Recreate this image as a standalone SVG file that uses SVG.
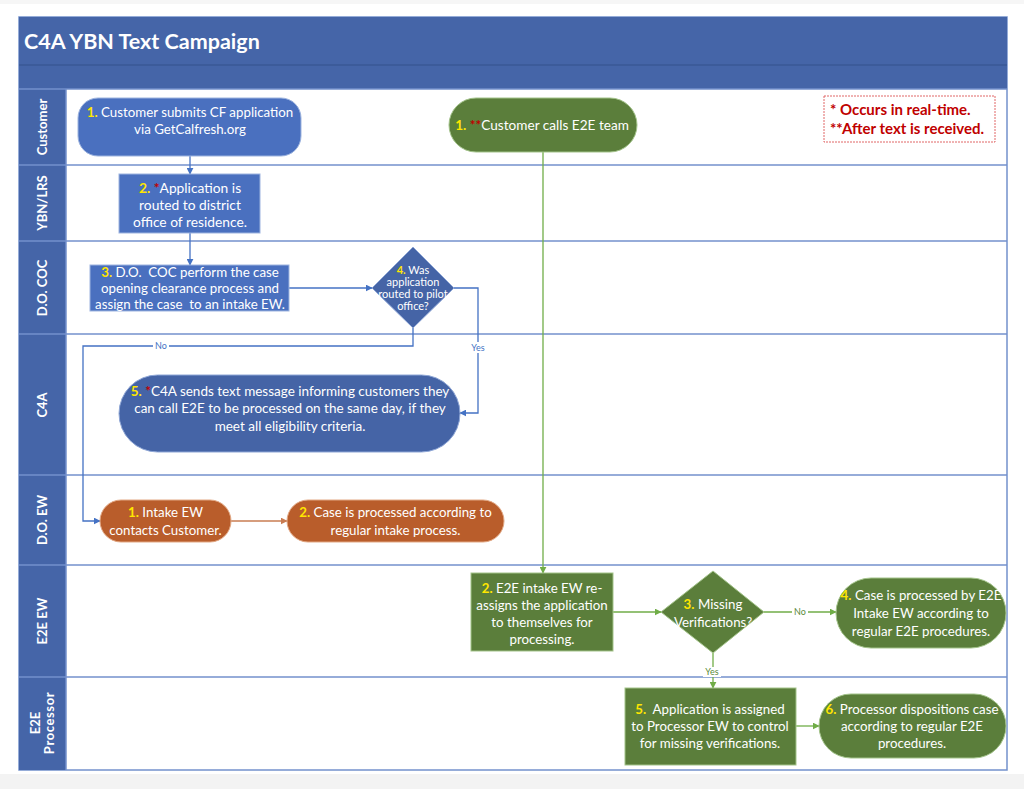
<svg xmlns="http://www.w3.org/2000/svg" width="1024" height="789" viewBox="0 0 1024 789">
<defs>
<style>
.t{font-family:Lato,"Open Sans","Liberation Sans",sans-serif;fill:#fff;font-size:13.3px;text-anchor:middle}
.n{fill:#ffe600;font-weight:bold}
.r{fill:#c00000;font-weight:bold}
.lane{font-family:Lato,"Open Sans","Liberation Sans",sans-serif;fill:#fff;font-size:13px;font-weight:bold;text-anchor:middle}
.lbl{font-family:Lato,"Open Sans","Liberation Sans",sans-serif;font-size:9px;text-anchor:middle}
.sep{stroke:#7391cc;stroke-width:1.5}
.cb{fill:none;stroke:#4472c4;stroke-width:1.3}
.cg{fill:none;stroke:#70ad47;stroke-width:1.3}
.co{fill:none;stroke:#c97c52;stroke-width:1.3}
.nb{fill:#4a70bf;stroke:#9db4df;stroke-width:1}
.nd{fill:#4564a6;stroke:#8ea6d6;stroke-width:1}
.ng{fill:#5b7e3b;stroke:#a3c38a;stroke-width:1}
.no{fill:#b95d2b;stroke:#e2a884;stroke-width:1}
.leg{font-family:Lato,"Open Sans","Liberation Sans",sans-serif;font-size:15px;font-weight:bold;fill:#c00000}
</style>
<marker id="ab" viewBox="0 0 10 10" refX="9" refY="5" markerWidth="7" markerHeight="7" markerUnits="userSpaceOnUse" orient="auto"><path d="M0,0L10,5L0,10z" fill="#4472c4"/></marker>
<marker id="ag" viewBox="0 0 10 10" refX="9" refY="5" markerWidth="7" markerHeight="7" markerUnits="userSpaceOnUse" orient="auto"><path d="M0,0L10,5L0,10z" fill="#70ad47"/></marker>
<marker id="ao" viewBox="0 0 10 10" refX="9" refY="5" markerWidth="7" markerHeight="7" markerUnits="userSpaceOnUse" orient="auto"><path d="M0,0L10,5L0,10z" fill="#c97c52"/></marker>
</defs>
<rect width="1024" height="789" fill="#fff"/>
<rect x="0" y="774" width="1024" height="15" fill="#f3f3f3"/>
<rect x="0" y="0" width="1024" height="4" fill="#f6f6f6"/>

<g id="frame">
<rect x="19" y="17" width="988" height="753" fill="#fff" stroke="#7391cc" stroke-width="1.5"/>
<rect x="19" y="17" width="988" height="48" fill="#4565a8"/>
<rect x="19" y="65" width="988" height="24" fill="#4565a8"/>
<line x1="19" y1="65" x2="1007" y2="65" stroke="#3a5896" stroke-width="1.5"/>
<rect x="19" y="89" width="47" height="681" fill="#4565a8"/>
<text x="24" y="49" style="font-family:Lato,'Open Sans','Liberation Sans',sans-serif;font-size:21.5px;font-weight:bold;fill:#fff">C4A YBN Text Campaign</text>
<line class="sep" x1="19" y1="89" x2="1007" y2="89"/>
<line class="sep" x1="19" y1="165" x2="1007" y2="165"/>
<line class="sep" x1="19" y1="241" x2="1007" y2="241"/>
<line class="sep" x1="19" y1="334" x2="1007" y2="334"/>
<line class="sep" x1="19" y1="475" x2="1007" y2="475"/>
<line class="sep" x1="19" y1="565" x2="1007" y2="565"/>
<line class="sep" x1="19" y1="677" x2="1007" y2="677"/>
<line class="sep" x1="66" y1="89" x2="66" y2="770"/>
<text class="lane" transform="translate(47,127) rotate(-90)">Customer</text>
<text class="lane" transform="translate(47,203) rotate(-90)">YBN/LRS</text>
<text class="lane" transform="translate(47,288) rotate(-90)">D.O. COC</text>
<text class="lane" transform="translate(47,405) rotate(-90)">C4A</text>
<text class="lane" transform="translate(47,520) rotate(-90)">D.O. EW</text>
<text class="lane" transform="translate(47,621) rotate(-90)">E2E EW</text>
<text class="lane" transform="translate(40,723) rotate(-90)">E2E</text>
<text class="lane" transform="translate(54,723) rotate(-90)" style="letter-spacing:0.6px">Processor</text>
</g>

<g id="connectors">
<path class="cb" d="M190,156V174" marker-end="url(#ab)"/>
<path class="cb" d="M190,233V265" marker-end="url(#ab)"/>
<path class="cb" d="M289,288H372" marker-end="url(#ab)"/>
<path class="cb" d="M454,288H478V413H460" marker-end="url(#ab)"/>
<path class="cb" d="M413,328V346H83V521H100" marker-end="url(#ab)"/>
<rect x="469" y="342" width="18" height="11" fill="#fff"/>
<text class="lbl" x="478" y="351" fill="#4472c4">Yes</text>
<rect x="153" y="341" width="16" height="10" fill="#fff"/>
<text class="lbl" x="161" y="349" fill="#4472c4">No</text>
<path class="co" d="M231,521H287" marker-end="url(#ao)"/>
<path class="cg" d="M543,152V573" marker-end="url(#ag)"/>
<path class="cg" d="M613,612H661" marker-end="url(#ag)"/>
<path class="cg" d="M764,612H836" marker-end="url(#ag)"/>
<rect x="792" y="607" width="16" height="10" fill="#fff"/>
<text class="lbl" x="800" y="615" fill="#5b8a3a">No</text>
<path class="cg" d="M713,653V688" marker-end="url(#ag)"/>
<rect x="703" y="667" width="18" height="10" fill="#fff"/>
<text class="lbl" x="712" y="675" fill="#5b8a3a">Yes</text>
<path class="cg" d="M796,726H819" marker-end="url(#ag)"/>
</g>

<g id="legend">
<rect x="824" y="96" width="171" height="46" fill="#fff" stroke="#e06666" stroke-width="1" stroke-dasharray="2,1"/>
<text class="leg" x="830" y="115">* Occurs in real-time.</text>
<text class="leg" x="830" y="133.5">**After text is received.</text>
</g>

<g id="cust1">
<rect class="nb" x="78" y="98" width="223" height="58" rx="20"/>
<text class="t" x="190" y="116.5"><tspan class="n">1.</tspan> Customer submits CF application</text>
<text class="t" x="190" y="133.5">via GetCalfresh.org</text>
</g>

<g id="custcall">
<rect class="ng" x="449" y="98" width="188" height="54" rx="27"/>
<text class="t" x="542" y="129.5" style="font-size:13.6px"><tspan class="n">1.</tspan> <tspan class="r">**</tspan>Customer calls E2E team</text>
</g>

<g id="ybn2">
<rect class="nb" x="119" y="174" width="141" height="59"/>
<text class="t" x="190" y="192.5" style="font-size:13.8px"><tspan class="n">2.</tspan> <tspan class="r">*</tspan>Application is</text>
<text class="t" x="190" y="209.5" style="font-size:13.8px">routed to district</text>
<text class="t" x="190" y="226.5" style="font-size:13.8px">office of residence.</text>
</g>

<g id="coc3">
<rect class="nb" x="90" y="265" width="199" height="46"/>
<text class="t" x="190" y="277" xml:space="preserve"><tspan class="n">3.</tspan> D.O.  COC perform the case</text>
<text class="t" x="190" y="293">opening clearance process and</text>
<text class="t" x="190" y="309" xml:space="preserve">assign the case  to an intake EW.</text>
</g>

<g id="dec4">
<path class="nd" d="M413,247L454,288L413,328L372,288Z"/>
<text class="t" x="413" y="274" style="font-size:11px"><tspan class="n">4.</tspan> Was</text>
<text class="t" x="413" y="286" style="font-size:11px">application</text>
<text class="t" x="413" y="298" style="font-size:11px">routed to pilot</text>
<text class="t" x="413" y="310" style="font-size:11px">office?</text>
</g>

<g id="c4a5">
<rect class="nd" x="119" y="375" width="341" height="77" rx="38.5"/>
<text class="t" x="290" y="395.5" style="font-size:13.5px"><tspan class="n">5.</tspan> <tspan class="r">*</tspan>C4A sends text message informing customers they</text>
<text class="t" x="290" y="413" style="font-size:13.5px">can call E2E to be processed on the same day, if they</text>
<text class="t" x="290" y="430.5" style="font-size:13.5px">meet all eligibility criteria.</text>
</g>

<g id="doew1">
<rect class="no" x="100" y="500" width="131" height="42" rx="21"/>
<text class="t" x="165.5" y="516.5"><tspan class="n">1.</tspan> Intake EW</text>
<text class="t" x="165.5" y="534.5">contacts Customer.</text>
</g>

<g id="doew2">
<rect class="no" x="287" y="500" width="217" height="42" rx="21"/>
<text class="t" x="395.5" y="516.5"><tspan class="n">2.</tspan> Case is processed according to</text>
<text class="t" x="395.5" y="534.5">regular intake process.</text>
</g>

<g id="e2e2">
<rect class="ng" x="471" y="573" width="142" height="78"/>
<text class="t" x="542" y="592.5"><tspan class="n">2.</tspan> E2E intake EW re-</text>
<text class="t" x="542" y="609.5">assigns the application</text>
<text class="t" x="542" y="626.5">to themselves for</text>
<text class="t" x="542" y="643.5">processing.</text>
</g>

<g id="dec3">
<path class="ng" d="M713,571L764,612L713,653L661,612Z"/>
<text class="t" x="713" y="608.5"><tspan class="n">3.</tspan> Missing</text>
<text class="t" x="713" y="626.5">Verifications?</text>
</g>

<g id="e2e4">
<rect class="ng" x="836" y="578" width="170" height="70" rx="35"/>
<text class="t" x="921" y="599.5"><tspan class="n">4.</tspan> Case is processed by E2E</text>
<text class="t" x="921" y="617.5">Intake EW according to</text>
<text class="t" x="921" y="635.5">regular E2E procedures.</text>
</g>

<g id="proc5">
<rect class="ng" x="625" y="688" width="171" height="77"/>
<text class="t" x="710" y="713.5" xml:space="preserve"><tspan class="n">5.</tspan>  Application is assigned</text>
<text class="t" x="710" y="730.5">to Processor EW to control</text>
<text class="t" x="710" y="747.5">for missing verifications.</text>
</g>

<g id="proc6">
<rect class="ng" x="819" y="694" width="187" height="64" rx="32"/>
<text class="t" x="912" y="713.5"><tspan class="n">6.</tspan> Processor dispositions case</text>
<text class="t" x="912" y="730.5">according to regular E2E</text>
<text class="t" x="912" y="747.5">procedures.</text>
</g>
</svg>
